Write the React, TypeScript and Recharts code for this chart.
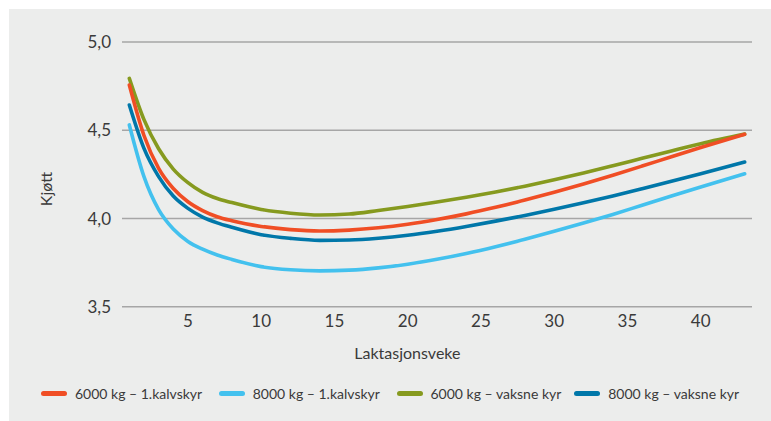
import { LineChart, Line, XAxis, YAxis, CartesianGrid, Legend } from 'recharts';

// laktasjonsveke
const weeks = [1, 2, 3, 4, 5, 6, 7, 8, 10, 12, 14, 16, 18, 20, 22, 24, 26, 28, 30, 32, 34, 36, 38, 40, 43];

// kjøtt per serie
const first6000 = [4.756, 4.47, 4.284, 4.17, 4.095, 4.045, 4.01, 3.987, 3.955, 3.937, 3.929, 3.934, 3.947, 3.967, 3.994, 4.026, 4.063, 4.104, 4.148, 4.195, 4.245, 4.297, 4.35, 4.402, 4.477];
const first8000 = [4.53, 4.237, 4.05, 3.94, 3.87, 3.826, 3.793, 3.768, 3.727, 3.709, 3.703, 3.707, 3.72, 3.741, 3.769, 3.802, 3.84, 3.882, 3.927, 3.974, 4.023, 4.075, 4.127, 4.178, 4.253];
const adult6000 = [4.794, 4.56, 4.395, 4.28, 4.203, 4.148, 4.113, 4.09, 4.051, 4.03, 4.02, 4.025, 4.045, 4.068, 4.093, 4.12, 4.15, 4.183, 4.219, 4.258, 4.299, 4.341, 4.383, 4.424, 4.478];
const adult8000 = [4.643, 4.397, 4.237, 4.127, 4.057, 4.008, 3.975, 3.95, 3.908, 3.887, 3.876, 3.878, 3.888, 3.905, 3.928, 3.955, 3.985, 4.017, 4.052, 4.089, 4.128, 4.169, 4.211, 4.254, 4.32];

const xTicks = [5, 10, 15, 20, 25, 30, 35, 40];
const yTicks = [3.5, 4.0, 4.5, 5.0];

const legendOrder = [
  { key: 'first6000', name: '6000 kg – 1.kalvskyr', color: '#f04e25' },
  { key: 'first8000', name: '8000 kg – 1.kalvskyr', color: '#43c1ee' },
  { key: 'adult6000', name: '6000 kg – vaksne kyr', color: '#869a1f' },
  { key: 'adult8000', name: '8000 kg – vaksne kyr', color: '#0077a9' },
];
// teikneorden: raud skal liggje over grøn
const drawOrder = ['first8000', 'adult6000', 'adult8000', 'first6000'];

const data = weeks.map((week, i) => ({
  week,
  first6000: first6000[i],
  first8000: first8000[i],
  adult6000: adult6000[i],
  adult8000: adult8000[i],
}));

const font = 'Lato, "Noto Sans", sans-serif';
const textColor = '#3a3a3a';

function LegendBox() {
  return (
    <div style={{ display: 'flex', alignItems: 'center', height: 44, paddingLeft: 32, fontFamily: font, fontSize: 14, color: textColor }}>
      {legendOrder.map((s) => (
        <div key={s.key} style={{ display: 'flex', alignItems: 'center', width: 182 }}>
          <span style={{ display: 'inline-block', width: 26, height: 5, borderRadius: 3, background: s.color, marginRight: 8 }} />
          <span>{s.name}</span>
        </div>
      ))}
    </div>
  );
}

export default function App() {
  return (
    <div style={{ position: 'fixed', left: 9, top: 9, width: 762, height: 412, background: '#ecedec' }}>
      <LineChart width={762} height={412} data={data} margin={{ top: 33, right: 19, bottom: 0, left: 0 }}>
        <CartesianGrid vertical={false} stroke="#a6a6a6" strokeWidth={1.4} />
        <XAxis
          dataKey="week"
          type="number"
          domain={[0.5, 43.5]}
          ticks={xTicks}
          axisLine={false}
          tickLine={false}
          tickSize={0}
          tickMargin={8}
          height={64.3}
          tick={{ fill: textColor, fontSize: 17, fontFamily: font }}
          label={{
            content: ({ viewBox }: any) => (
              <text x={viewBox.x + viewBox.width * 0.453} y={viewBox.y + 52} textAnchor="middle" fill={textColor} fontSize={16} fontFamily={font}>
                Laktasjonsveke
              </text>
            ),
          }}
        />
        <YAxis
          type="number"
          domain={[3.5, 5]}
          ticks={yTicks}
          width={113}
          axisLine={false}
          tickLine={false}
          tickSize={0}
          tickMargin={11}
          tickFormatter={(v: number) => v.toFixed(1).replace('.', ',')}
          tick={{ fill: textColor, fontSize: 17, fontFamily: font }}
          label={{
            content: () => (
              <text x={0} y={0} transform="translate(43 180) rotate(-90)" textAnchor="middle" fill={textColor} fontSize={16} fontFamily={font}>
                Kjøtt
              </text>
            ),
          }}
        />
        <Legend verticalAlign="bottom" height={50} content={() => <LegendBox />} />
        {drawOrder.map((k) => {
          const s = legendOrder.find((x) => x.key === k)!;
          return (
            <Line
              key={k}
              type="monotone"
              dataKey={k}
              name={s.name}
              stroke={s.color}
              strokeWidth={3.6}
              strokeLinecap="round"
              dot={false}
              isAnimationActive={false}
            />
          );
        })}
      </LineChart>
    </div>
  );
}
